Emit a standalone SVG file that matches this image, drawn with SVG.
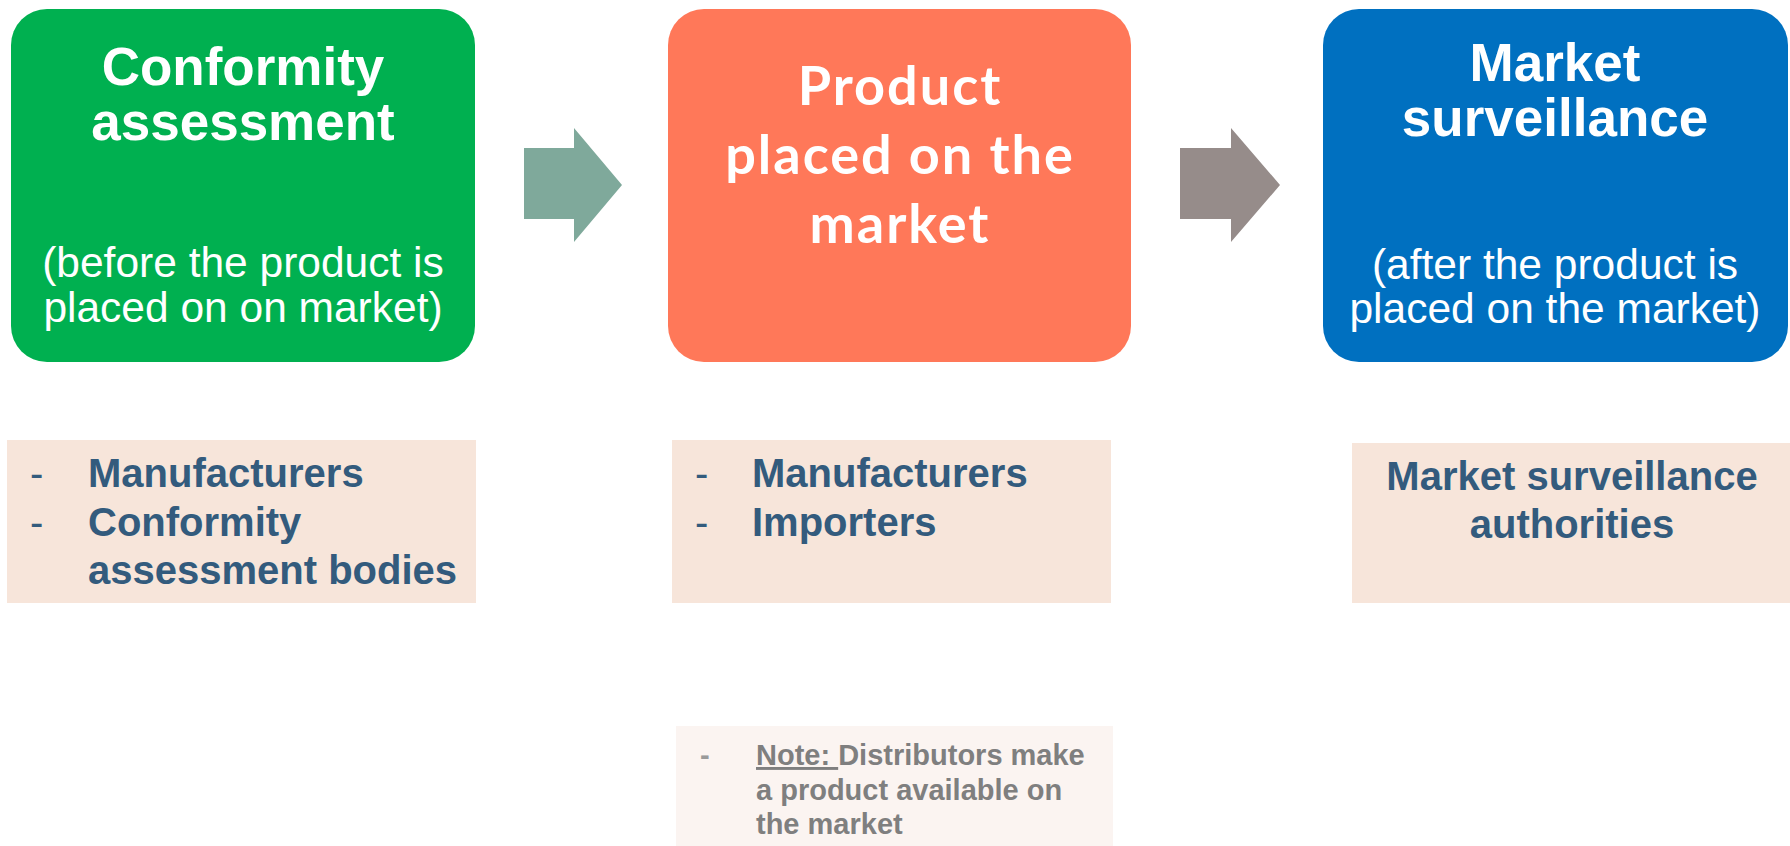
<svg xmlns="http://www.w3.org/2000/svg" width="1790" height="846" viewBox="0 0 1790 846">
<style>
.title{font-family:"Liberation Sans",Arial,sans-serif;font-weight:bold;font-size:53px;fill:#fff;text-anchor:middle}
.gothic{font-family:Lato,"Liberation Sans",sans-serif;font-weight:bold;font-size:54px;fill:#fff;text-anchor:middle;letter-spacing:2px}
.sub{font-family:"Liberation Sans",Arial,sans-serif;font-size:42.5px;fill:#fff;text-anchor:middle}
.role{font-family:"Liberation Sans",Arial,sans-serif;font-weight:bold;font-size:40px;fill:#335B7D}
.dash{font-weight:normal}
.note{font-family:"Liberation Sans",Arial,sans-serif;font-weight:bold;font-size:29px;fill:#7F7F7F}
.pale{fill:#F7E5DA}
</style>
<rect width="1790" height="846" fill="#fff"/>
<g id="connectors">
<polygon points="524,148 574,148 574,128 622,185 574,242 574,219 524,219" fill="#7FA99B"/>
<polygon points="1180,148 1231,148 1231,128 1280,185 1231,242 1231,219 1180,219" fill="#968C8A"/>
</g>
<g id="conformity">
<rect x="11" y="9" width="464" height="353" rx="36" fill="#00B050"/>
<text class="title" x="243" y="85">Conformity</text>
<text class="title" x="243" y="140">assessment</text>
<text class="sub" x="243" y="277">(before the product is</text>
<text class="sub" x="243" y="322">placed on on market)</text>
</g>
<g id="placed">
<rect x="668" y="9" width="463" height="353" rx="36" fill="#FF7859"/>
<text class="gothic" x="900" y="105">Product</text>
<text class="gothic" x="900" y="174">placed on the</text>
<text class="gothic" x="900" y="243">market</text>
</g>
<g id="surveillance">
<rect x="1323" y="9" width="465" height="353" rx="36" fill="#0070C0"/>
<text class="title" x="1555" y="81">Market</text>
<text class="title" x="1555" y="136">surveillance</text>
<text class="sub" x="1555" y="279">(after the product is</text>
<text class="sub" x="1555" y="323">placed on the market)</text>
</g>
<g id="actors-before">
<rect class="pale" x="7" y="440" width="469" height="163"/>
<text class="role dash" x="30" y="487">-</text>
<text class="role" x="88" y="487">Manufacturers</text>
<text class="role dash" x="30" y="536">-</text>
<text class="role" x="88" y="536">Conformity</text>
<text class="role" x="88" y="584">assessment bodies</text>
</g>
<g id="actors-placed">
<rect class="pale" x="672" y="440" width="439" height="163"/>
<text class="role dash" x="695" y="487">-</text>
<text class="role" x="752" y="487">Manufacturers</text>
<text class="role dash" x="695" y="536">-</text>
<text class="role" x="752" y="536">Importers</text>
</g>
<g id="actors-after">
<rect class="pale" x="1352" y="443" width="438" height="160"/>
<text class="role" x="1572" y="490" text-anchor="middle">Market surveillance</text>
<text class="role" x="1572" y="538" text-anchor="middle">authorities</text>
</g>
<g id="note">
<rect x="676" y="726" width="437" height="120" fill="#FBF4F1"/>
<text class="note dash" x="700" y="765" fill="#9A9A9A" style="fill:#9A9A9A">-</text>
<text class="note" x="756" y="765"><tspan text-decoration="underline">Note: </tspan>Distributors make</text>
<text class="note" x="756" y="800">a product available on</text>
<text class="note" x="756" y="834">the market</text>
</g>
</svg>
